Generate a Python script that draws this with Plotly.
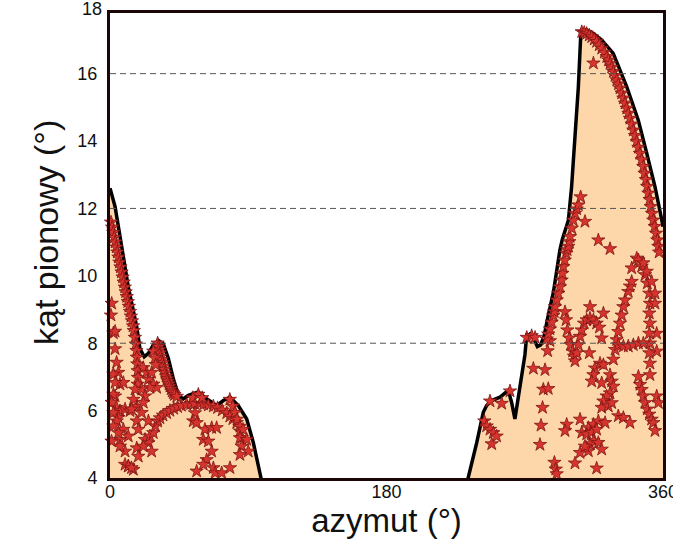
import plotly.graph_objects as go

# ---- outline of the horizon (azimuth, elevation) ----
left_curve_x = [0, 3.3, 7.6, 11.9, 17.4, 19.5, 22.3, 25, 28.2, 31.5, 34.7, 38, 41.2, 44.5, 47.7, 51,
                57.5, 62.9, 69.4, 73.8, 78.1, 83.5, 89, 93.3, 98.3, 100]
left_curve_y = [12.6, 12.05, 10.87, 9.67, 8.49, 7.84, 7.6, 7.7, 7.95, 8.08, 7.98, 7.55, 6.95, 6.45, 6.35, 6.45,
                6.55, 6.35, 6.15, 6.3, 6.4, 6.15, 5.75, 5.05, 4.0, 3.64]

right_curve_x = [231, 233.2, 238.7, 243.0, 245.2, 248.4, 253.9, 259.3, 261.4, 263.6, 266.9, 270.1, 271.2,
                 273.4, 275.6, 278.2, 280.3, 282.5, 285.3, 288.6, 292.9, 294.5, 298.4, 300.5, 302.7, 304.9,
                 306.4, 307.1, 310, 314.7, 320.1, 327.6, 336.4, 343.9, 349.4, 354.8, 359.2, 360]
right_curve_y = [3.6, 3.99, 5.04, 5.95, 6.15, 6.30, 6.40, 6.60, 6.25, 5.75, 6.65, 7.65, 8.2,
                 8.27, 8.17, 7.9, 7.95, 8.2, 8.83, 9.5, 10.77, 11.09, 11.65, 12.64, 14.13, 15.61,
                 17.09, 17.29, 17.3, 17.19, 17.0, 16.6, 15.61, 14.62, 13.64, 12.64, 11.66, 11.46]

# ---- measured points (stars) ----
stars_left_x = [
    # dense line from the top-left
    0.7, 1.4, 2.1, 2.7, 3.4, 4.1, 4.8, 5.5, 6.1, 6.8, 7.5, 8.2, 8.9, 9.6, 10.2, 10.9, 11.6, 12.3, 13.0, 13.6,
    14.3, 15.0, 15.5, 16.2, 16.8, 17.2, 17.5, 17.8, 18.0, 18.2, 18.0,
    # scattered
    2.2, 3.3, 4.3, 5.4, 6.5, 8.7, 3.3, 4.3, 6.5, 9.8, 13, 17.4, 20.6, 25, 17.4, 18.4, 5.4, 8.7, 11.9, 6.5,
    9.8, 17.4, 22.8, 25, 27.1, 18.4, 11.9, 15.2, 9.8,
    21.7, 23.9, 25, 27.1, 28.2, 30.4, 26, 20.6, 22.8, 21.7,
    1.1, 3.3, 2.2, 3.3, 2.2, 1.1, 2.2, 4.4, 2.2, 5.5, 6.5, 12, 14, 0.6, 1.0,
    26, 21.7, 16.3, 15.2, 14.1,
    # line along the second peak
    31, 31.5, 32, 32.5, 33, 33.6, 34.2, 34.8, 35.3, 35.9, 36.5, 37.1, 37.7, 38.4, 39, 39.8, 40.5, 41.3, 42, 43.5,
    28.2, 29.3, 29.8,
    # arc
    28.2, 29.5, 31, 32.5, 34.5, 36.9, 39, 41.5, 44, 46.5, 49.9, 52.5, 55, 58.6, 61, 64, 67.3, 70, 73, 76,
    78, 80, 82.5, 84.6, 85.8,
    78, 80, 81.4, 82.7, 84.6, 86.6, 54, 57.5, 60,
    55.3, 54.2, 56.4, 61.8, 66.2, 69.4, 60.7, 64, 66.2, 84.6, 89, 85.7, 90, 84.6, 62.9, 60.7, 67.3, 56.4,
    68.4, 72.7, 78.1,
]
stars_left_y = [
    11.59, 11.44, 11.29, 11.14, 11.0, 10.85, 10.7, 10.55, 10.4, 10.26, 10.11, 9.96, 9.81, 9.66, 9.52, 9.38,
    9.23, 9.09, 8.94, 8.8, 8.66, 8.51, 8.37, 8.17, 7.97, 7.78, 7.58, 7.38, 7.18, 6.98, 6.78,
    8.3, 7.83, 7.43, 7.13, 6.78, 6.83, 6.43, 6.09, 5.99, 6.04, 5.99, 6.13, 5.94, 5.69, 5.69, 5.44, 5.79, 5.44,
    5.24, 5.14, 4.79, 4.89, 5.14, 5.04, 4.79, 4.64, 4.35, 4.25, 4.4,
    7.27, 7.13, 6.93, 7.13, 6.78, 6.68, 6.68, 6.63, 6.43, 6.24,
    9.18, 8.35, 7.08, 6.83, 6.48, 6.24, 5.94, 5.69, 5.54, 5.34, 4.94, 4.35, 4.3, 8.83, 5.09,
    5.24, 4.94, 6.63, 6.33, 6.04,
    8.0, 7.9, 7.81, 7.71, 7.61, 7.51, 7.42, 7.32, 7.22, 7.12, 7.02, 6.94, 6.87, 6.79, 6.72, 6.64, 6.57, 6.52,
    6.47, 6.42,
    7.76, 7.56, 7.36,
    5.34, 5.54, 5.68, 5.78, 5.86, 5.93, 6.0, 6.06, 6.11, 6.15, 6.18, 6.2, 6.21, 6.21, 6.19, 6.16, 6.13, 6.08,
    6.01, 5.93, 5.83, 5.75, 5.64, 5.39, 5.19,
    6.33, 6.13, 5.94, 5.74, 5.53, 5.44, 6.38, 6.48, 6.38,
    5.93, 5.69, 5.64, 5.44, 5.49, 5.49, 5.14, 5.09, 4.79, 5.19, 5.14, 4.94, 4.79, 4.69, 4.54, 4.4, 4.3, 4.2,
    4.15, 4.15, 4.3,
]

stars_right_x = [
    271.3, 274.5, 276.7, 275.6, 283.2, 282.1, 285.3, 281.6, 280.6, 279.9, 289.3, 290.2, 290.8, 260.4, 247.4,
    255, 243.7, 245.2, 247.4, 249.5, 251.7, 248.5, 284.9, 286.4,
    # dense line along the left rise
    284.3, 285.3, 286.4, 287.5, 288.6, 289.2, 289.7, 290.8, 291.8, 292.9, 294, 294.5, 295.1, 296, 296.9,
    297.6, 298.4, 299, 299.5, 300.6, 301.6, 302.7, 303.8, 304.9, 306.4,
    309.2, 317.9, 325.5, 314.7,
    # dense arc under the top outline
    307.1, 308.7, 310.3, 312, 313.6, 315.2, 316.8, 318.5, 320.1, 321.8, 323.4, 324.5, 325.5, 326.6, 327.7,
    328.8, 329.9, 331, 332, 333.1, 334.2, 335.3, 336.4, 337.5, 338.5, 339.6, 340.7, 341.8, 342.9, 344, 345,
    346.1, 347.2, 348, 348.9, 349.7, 350.5, 351.3, 352, 352.9, 353.7, 354.6, 355.5, 356.3, 357, 357.5,
    # V shape
    296.2, 296.9, 297.7, 299.0, 299.9, 301.2, 302.1, 302.7,
    303.8, 304.9, 306.0, 307.1, 308.6, 310.3, 312.5, 314.7, 316.8, 318.6,
    312.5, 321.2, 320.1, 312.0, 355.9, 355.9,
    # A shape
    327.7, 328.8, 329.8, 330.9, 332.0, 333.1, 334.2, 335.3, 337.4, 338.5, 339.6, 339.6, 342.9,
    344.0, 346.1, 348.3, 349.8, 351.1, 351.5, 351.1, 351.5, 351.1, 351.5, 351.1, 351.5, 351.5,
    347.2, 349.4, 352.6, 354.8, 354.8,
    330.9, 334.2, 337.4, 340.7, 344.0, 347.2,
    # lower S curve
    315.7, 314.7, 313.6, 320.1, 325.5, 326.6, 327.7, 325.5, 323.3, 321.2, 320.1, 324.4, 326.6, 319.0, 321.2,
    345.0, 346.1, 347.2, 348.3, 349.8, 351.1, 352.6, 353.7, 354.8,
    344.0, 355.9, 357.0, 330.9, 334.2, 338.5, 297.3, 296.2, 306.0, 307.1, 311.4, 314.7, 317.9, 322.3, 310.3,
    313.6, 316.8, 314.7, 312.5, 310.3, 317.9, 320.1, 306.0, 302.7, 316.8, 311.4, 309.2,
]
stars_right_y = [
    8.17, 8.22, 8.17, 7.25, 7.21, 6.63, 6.65, 6.09, 5.56, 4.99, 4.46, 4.26, 4.12, 6.58, 6.28,
    6.21, 5.69, 5.54, 5.44, 5.34, 5.24, 5.01, 7.77, 8.07,
    8.12, 8.27, 8.42, 8.62, 8.82, 8.93, 9.08, 9.28, 9.48, 9.67, 9.87, 10.07, 10.27, 10.46, 10.67,
    10.77, 10.87, 11.01, 11.16, 11.41, 11.65, 11.85, 11.98, 12.1, 12.34,
    11.61, 11.06, 10.8, 16.31,
    17.24, 17.22, 17.19, 17.14, 17.09, 17.02, 16.95, 16.85, 16.75, 16.63, 16.5, 16.4, 16.3, 16.19, 16.06,
    15.94, 15.81, 15.69, 15.57, 15.42, 15.27, 15.12, 14.97, 14.82, 14.67, 14.5, 14.32, 14.16, 13.98, 13.81,
    13.63, 13.44, 13.24, 13.04, 12.85, 12.65, 12.45, 12.26, 12.05, 11.85, 11.65, 11.46, 11.26, 11.06, 10.87,
    10.7,
    8.93, 8.69, 8.39, 8.15, 7.95, 7.76, 7.61, 7.47,
    7.71, 7.95, 8.2, 8.39, 8.59, 8.69, 8.74, 8.69, 8.59, 8.47,
    9.08, 8.89, 8.15, 7.71, 8.29, 7.76,
    7.52, 7.81, 8.1, 8.34, 8.59, 8.83, 9.08, 9.28, 9.53, 9.69, 9.83, 10.23, 10.52,
    10.47, 10.28, 10.03, 9.78, 9.48, 9.18, 8.89, 8.59, 8.29, 8.0, 7.71, 7.4, 7.06,
    10.38, 10.13, 9.83, 9.48, 9.18,
    7.95, 7.91, 7.91, 7.95, 8.0, 8.0,
    7.26, 7.06, 6.87, 6.82, 7.06, 6.87, 6.72, 6.52, 6.43, 6.28, 6.09, 6.13, 6.23, 7.4, 7.36,
    6.77, 6.62, 6.43, 6.23, 6.04, 5.89, 5.74, 5.64, 5.4,
    7.01, 6.43, 6.23, 5.84, 5.79, 5.64, 5.59, 5.4, 5.74, 5.35, 5.49, 5.59, 5.69, 5.64, 5.3,
    5.35, 5.44, 5.1, 5.0, 4.9, 5.05, 4.85, 4.75, 4.44, 4.29, 4.8, 4.94,
]

grid_levels = [8, 12, 16]
x_ticks = [0, 180, 360]
y_ticks = [4, 6, 8, 10, 12, 14, 16, 18]
y_range = [4, 17.8]
x_title = "azymut (°)"
y_title = "kąt pionowy (°)"

FILL = "#FDD7AA"
font = "Liberation Sans, Arial, sans-serif"
fig = go.Figure()
for cx, cy in [(left_curve_x, left_curve_y), (right_curve_x, right_curve_y)]:
    fig.add_trace(go.Scatter(x=cx, y=cy, mode="lines", fill="tozeroy", fillcolor=FILL,
                             line=dict(color="black", width=3.5), hoverinfo="skip", showlegend=False))

fig.add_trace(go.Scatter(
    x=stars_left_x + stars_right_x, y=stars_left_y + stars_right_y, mode="markers",
    marker=dict(symbol="star", size=10, color="#D8342E", line=dict(color="#7E1414", width=0.8)),
    showlegend=False, cliponaxis=False))

for g in grid_levels:
    fig.add_shape(type="line", xref="x", yref="y", x0=0, x1=360, y0=g, y1=g, layer="above",
                  line=dict(color="#555555", width=1, dash="6px,4px"))

# tick labels that sit just above the top of the frame
span = y_range[1] - y_range[0]
for t in y_ticks:
    if t > y_range[1]:
        fig.add_annotation(x=0, xref="paper", y=(t - y_range[0]) / span, yref="paper", text=str(t),
                           showarrow=False, xanchor="right", yanchor="middle", xshift=-6, yshift=-3,
                           font=dict(size=18, family=font, color="#111111"))

# vertical axis title
fig.add_annotation(x=0, xref="paper", y=0.527, yref="paper", text=y_title, textangle=-90,
                   showarrow=False, xanchor="center", yanchor="middle", xshift=-64,
                   font=dict(size=34, family=font, color="#111111"))

fig.update_layout(
    width=673, height=556, margin=dict(l=110, r=10, t=13, b=78, autoexpand=False),
    paper_bgcolor="white", plot_bgcolor="white",
    font=dict(family=font, color="#111111"),
    xaxis=dict(range=[0, 360], tickvals=x_ticks, ticks="", showgrid=False, zeroline=False,
               showline=True, linecolor="#1a0606", linewidth=3, mirror=True, automargin=False,
               tickfont=dict(size=18, family=font), ticklabelstandoff=-5,
               ticklabeloverflow="allow",
               title=dict(text=x_title, font=dict(size=33, family=font), standoff=0)),
    yaxis=dict(range=y_range, tickvals=y_ticks, ticks="", showgrid=False, zeroline=False,
               showline=True, linecolor="#1a0606", linewidth=3, mirror=True, automargin=False,
               tickfont=dict(size=18, family=font), ticklabelstandoff=6),
)
fig.write_html("out.html")
